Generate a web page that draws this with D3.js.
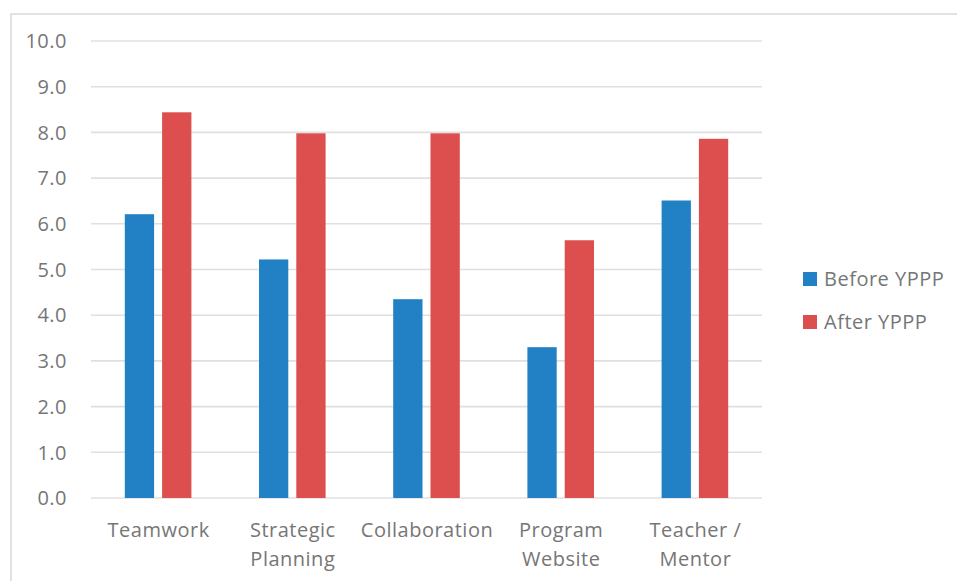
<!DOCTYPE html>
<html>
<head>
<meta charset="utf-8">
<script src="https://cdn.jsdelivr.net/npm/d3@7"></script>
<style>
  html, body { margin: 0; padding: 0; background: #fff; }
  svg { display: block; }
  text { font-family: "Open Sans", sans-serif; fill: #767676; letter-spacing: 0.5px; }
</style>
</head>
<body>
<svg id="chart" width="957" height="581"></svg>
<script>
const categories = [["Teamwork"], ["Strategic", "Planning"], ["Collaboration"], ["Program", "Website"], ["Teacher /", "Mentor"]];
const seriesNames = ["Before YPPP", "After YPPP"];
const beforeValues = [6.21, 5.22, 4.35, 3.30, 6.51];
const afterValues = [8.44, 7.98, 7.98, 5.64, 7.86];
const yTicks = [0, 1, 2, 3, 4, 5, 6, 7, 8, 9, 10];
const colors = ["#2281C4", "#DD4F4E"];

const svg = d3.select("#chart");
const W = 957, H = 581;

// outer border
svg.append("rect").attr("x", 11).attr("y", 14).attr("width", W).attr("height", H)
  .attr("fill", "none").attr("stroke", "#d9d9d9").attr("stroke-width", 1.5);

const x0 = 91, x1 = 762, yTop = 41, yBot = 498;
const keys = categories.map((c, i) => i);
const x = d3.scaleBand().domain(keys).range([x0, x1]).paddingInner(0).paddingOuter(0);
const y = d3.scaleLinear().domain([0, 10]).range([yBot, yTop]);

// gridlines
svg.append("g").selectAll("line").data(yTicks).join("line")
  .attr("x1", x0).attr("x2", x1)
  .attr("y1", d => y(d)).attr("y2", d => y(d))
  .attr("stroke", "#e0e0e0").attr("stroke-width", 1.6);

// y labels
svg.append("g").selectAll("text").data(yTicks).join("text")
  .attr("x", 67).attr("y", d => y(d)).attr("dy", "0.36em")
  .attr("text-anchor", "end").attr("font-size", 20)
  .text(d => d3.format(".1f")(d));

// bars
const barW = 29.3, gap = 8;
const series = [beforeValues, afterValues];
series.forEach((vals, s) => {
  svg.append("g").selectAll("rect").data(vals).join("rect")
    .attr("x", (d, i) => x(i) + x.bandwidth() / 2 - (barW + gap / 2) + s * (barW + gap))
    .attr("width", barW)
    .attr("y", d => y(d))
    .attr("height", d => y(0) - y(d))
    .attr("fill", colors[s]);
});

// category labels
const cl = svg.append("g").selectAll("text").data(categories).join("text")
  .attr("text-anchor", "middle").attr("font-size", 20)
  .attr("x", (d, i) => x(i) + x.bandwidth() / 2 + 0.5)
  .attr("y", 537);
cl.selectAll("tspan").data(d => d).join("tspan")
  .attr("x", function() { return d3.select(this.parentNode).attr("x"); })
  .attr("dy", (d, i) => i === 0 ? 0 : 29)
  .text(d => d);

// legend
const lg = svg.append("g").selectAll("g").data(seriesNames).join("g")
  .attr("transform", (d, i) => `translate(803, ${272 + i * 43})`);
lg.append("rect").attr("width", 14).attr("height", 14).attr("fill", (d, i) => colors[i]);
lg.append("text").attr("x", 21).attr("y", 7).attr("dy", "0.36em")
  .attr("font-size", 20).text(d => d);
</script>
</body>
</html>
